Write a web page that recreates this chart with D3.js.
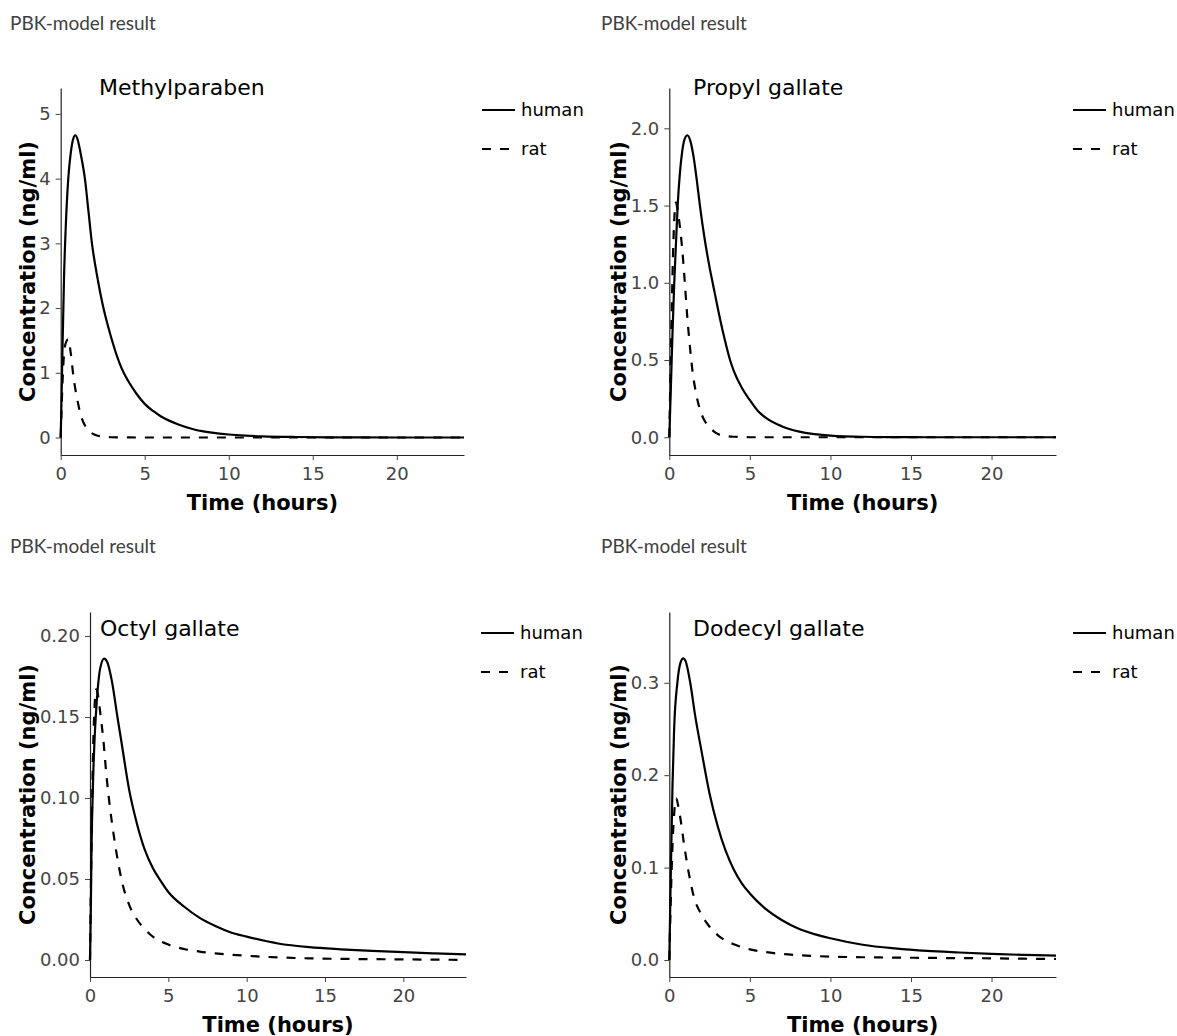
<!DOCTYPE html>
<html>
<head>
<meta charset="utf-8">
<script src="https://cdn.jsdelivr.net/npm/d3@7"></script>
<style>
body { margin: 0; background: #fff; }
svg text { font-family: "DejaVu Sans", Verdana, sans-serif; }
.header { font-family: Lato, "Open Sans", sans-serif !important; }
</style>
</head>
<body>
<svg id="chart" width="1177" height="1036"></svg>
<script>
// [time (hours), concentration (ng/ml)]
var methylHuman = [[0,0],[0.05,0.6],[0.1,1.3],[0.2,2.5],[0.3,3.25],[0.45,4.0],[0.6,4.4],[0.75,4.62],[0.87,4.67],[1,4.61],[1.2,4.37],[1.45,3.98],[1.65,3.5],[1.85,3.02],[2.2,2.45],[2.5,2.05],[3,1.55],[3.5,1.15],[3.75,1.0],[4,0.88],[4.5,0.68],[5,0.52],[5.5,0.41],[6,0.32],[7,0.2],[8,0.12],[9,0.075],[10,0.047],[11,0.03],[12,0.019],[14,0.008],[16,0.003],[18,0.0012],[20,0.0005],[24,0]];
var methylRat = [[0,0],[0.1,0.8],[0.2,1.3],[0.3,1.46],[0.45,1.52],[0.6,1.3],[0.75,0.96],[1,0.57],[1.25,0.3],[1.5,0.16],[1.75,0.085],[2,0.045],[2.5,0.013],[3,0.004],[4,0.001],[5,0],[24,0]];

var propylHuman = [[0,0],[0.1,0.33],[0.2,0.68],[0.3,0.98],[0.4,1.22],[0.52,1.5],[0.65,1.7],[0.8,1.85],[0.95,1.93],[1.12,1.955],[1.3,1.92],[1.5,1.82],[1.7,1.67],[1.9,1.5],[2.2,1.28],[2.5,1.1],[2.75,0.97],[3,0.84],[3.4,0.65],[3.77,0.5],[4,0.43],[4.5,0.32],[5,0.24],[5.5,0.17],[6,0.125],[7,0.07],[8,0.038],[9,0.02],[10,0.011],[12,0.003],[14,0.001],[16,0],[24,0]];
var propylRat = [[0,0],[0.08,0.45],[0.15,0.82],[0.25,1.25],[0.33,1.45],[0.41,1.52],[0.53,1.46],[0.65,1.37],[0.8,1.22],[0.95,1.02],[1.1,0.8],[1.25,0.62],[1.45,0.42],[1.65,0.29],[1.9,0.18],[2.2,0.105],[2.45,0.07],[2.8,0.035],[3.25,0.012],[4,0.003],[5,0],[24,0]];

var octylHuman = [[0,0],[0.05,0.03],[0.1,0.07],[0.2,0.112],[0.3,0.138],[0.4,0.155],[0.5,0.168],[0.65,0.18],[0.9,0.186],[1.1,0.184],[1.4,0.172],[1.75,0.15],[2,0.135],[2.5,0.105],[3,0.084],[3.5,0.068],[4,0.057],[4.5,0.049],[5,0.042],[6,0.033],[7,0.026],[8,0.021],[9,0.017],[10,0.0144],[12,0.0102],[14,0.0079],[16,0.0066],[18,0.0056],[20,0.0048],[22,0.0041],[24,0.0035]];
var octylRat = [[0,0],[0.1,0.075],[0.2,0.13],[0.3,0.158],[0.4,0.167],[0.5,0.164],[0.65,0.153],[0.85,0.136],[1.05,0.114],[1.25,0.096],[1.5,0.078],[1.8,0.06],[2.1,0.046],[2.5,0.034],[3,0.025],[3.5,0.019],[4,0.0145],[5,0.0095],[6,0.0068],[7,0.0052],[8,0.0041],[10,0.0026],[12,0.0016],[14,0.001],[16,0.0007],[18,0.0005],[20,0.0004],[22,0.0002],[24,0.0001]];

var dodecylHuman = [[0,0],[0.05,0.05],[0.1,0.1],[0.2,0.19],[0.3,0.25],[0.5,0.3],[0.7,0.322],[0.87,0.3265],[1,0.324],[1.3,0.3],[1.6,0.265],[2,0.226],[2.5,0.18],[3,0.145],[3.5,0.118],[4,0.098],[4.5,0.083],[5,0.072],[6,0.055],[7,0.043],[8,0.034],[9,0.028],[10,0.0235],[12,0.0165],[14,0.0125],[16,0.0098],[18,0.0081],[20,0.0066],[22,0.0055],[24,0.0047]];
var dodecylRat = [[0,0],[0.1,0.07],[0.2,0.125],[0.3,0.158],[0.43,0.175],[0.55,0.167],[0.7,0.152],[0.9,0.127],[1.2,0.095],[1.5,0.07],[2,0.049],[2.5,0.036],[3,0.027],[3.5,0.021],[4,0.017],[4.5,0.014],[5,0.0115],[6,0.0085],[7,0.0065],[8,0.0052],[10,0.0037],[12,0.003],[14,0.0026],[16,0.0023],[18,0.002],[20,0.0018],[22,0.0014],[24,0.0011]];

var compounds = ['Methylparaben', 'Propyl gallate', 'Octyl gallate', 'Dodecyl gallate'];
var species = ['human', 'rat'];
var xTicks = [0, 5, 10, 15, 20];
var methylTicks = [0, 1, 2, 3, 4, 5];
var propylTicks = [0, 0.5, 1, 1.5, 2];
var octylTicks = [0, 0.05, 0.1, 0.15, 0.2];
var dodecylTicks = [0, 0.1, 0.2, 0.3];

var svg = d3.select('#chart');

// layout of each subplot (pixels), plus y-range of the axis
var panels = [
    { name: compounds[0], human: methylHuman, rat: methylRat, ticks: methylTicks, fmt: 'd',
      ox: 0, oy: 0, left: 60.7, right: 464, top: 88, bottom: 455, yMin: -0.27, yMax: 5.40, titleX: 99, legX: 482 },
    { name: compounds[1], human: propylHuman, rat: propylRat, ticks: propylTicks, fmt: '.1f',
      ox: 591, oy: 0, left: 669.3, right: 1056, top: 88, bottom: 455, yMin: -0.115, yMax: 2.261, titleX: 693, legX: 1073 },
    { name: compounds[2], human: octylHuman, rat: octylRat, ticks: octylTicks, fmt: '.2f',
      ox: 0, oy: 523, left: 90, right: 466, top: 612, bottom: 977, yMin: -0.0105, yMax: 0.2148, titleX: 100, legX: 481 },
    { name: compounds[3], human: dodecylHuman, rat: dodecylRat, ticks: dodecylTicks, fmt: '.1f',
      ox: 591, oy: 523, left: 669.3, right: 1056, top: 612, bottom: 977, yMin: -0.0184, yMax: 0.3766, titleX: 693, legX: 1073 }
];

var dash = '9,9';

panels.forEach(function (p) {
    var g = svg.append('g');

    var x = d3.scaleLinear().domain([0, 24]).range([p.left, p.right]);
    var y = d3.scaleLinear().domain([p.yMin, p.yMax]).range([p.bottom, p.top]);

    g.append('text').attr('class', 'header')
        .attr('x', p.ox + 10).attr('y', p.oy + 30)
        .attr('font-size', '19px').attr('fill', '#404040')
        .text('PBK-model result');

    var xAxis = g.append('g').attr('transform', 'translate(0,' + p.bottom + ')')
        .call(d3.axisBottom(x).tickValues(xTicks).tickSize(5).tickSizeOuter(0).tickPadding(7));
    var yAxis = g.append('g').attr('transform', 'translate(' + p.left + ',0)')
        .call(d3.axisLeft(y).tickValues(p.ticks).tickFormat(d3.format(p.fmt)).tickSize(5).tickSizeOuter(0).tickPadding(5));

    [xAxis, yAxis].forEach(function (a) {
        a.select('.domain').attr('stroke', '#222').attr('stroke-width', 1.2);
        a.selectAll('.tick line').attr('stroke', '#444');
        a.selectAll('.tick text').attr('font-size', '18px').attr('fill', '#444')
            .attr('font-family', '"DejaVu Sans", Verdana, sans-serif');
    });

    g.append('text')
        .attr('x', (p.left + p.right) / 2).attr('y', p.bottom + 55)
        .attr('text-anchor', 'middle').attr('font-size', '21px').attr('font-weight', 'bold')
        .text('Time (hours)');

    g.append('text')
        .attr('transform', 'translate(' + (p.ox + 35) + ',' + ((p.top + p.bottom) / 2) + ') rotate(-90)')
        .attr('text-anchor', 'middle').attr('font-size', '21px').attr('font-weight', 'bold')
        .text('Concentration (ng/ml)');

    g.append('text')
        .attr('x', p.titleX).attr('y', p.top + 7 + (p.oy ? 17 : 0))
        .attr('font-size', '22px').attr('fill', '#000')
        .text(p.name);

    var line = d3.line()
        .x(function (d) { return x(d[0]); })
        .y(function (d) { return y(d[1]); })
        .curve(d3.curveMonotoneX);

    g.append('path').datum(p.rat)
        .attr('d', line).attr('fill', 'none').attr('stroke', '#000')
        .attr('stroke-width', 2.2).attr('stroke-dasharray', dash);
    g.append('path').datum(p.human)
        .attr('d', line).attr('fill', 'none').attr('stroke', '#000')
        .attr('stroke-width', 2.2);

    // legend
    var ly = p.top + (p.oy ? 21 : 22);
    species.forEach(function (s, i) {
        var yy = ly + i * 39;
        g.append('line')
            .attr('x1', p.legX).attr('x2', p.legX + 33)
            .attr('y1', yy).attr('y2', yy)
            .attr('stroke', '#000').attr('stroke-width', 2.2)
            .attr('stroke-dasharray', s == 'rat' ? dash : null);
        g.append('text')
            .attr('x', p.legX + 39).attr('y', yy + 6)
            .attr('font-size', '18px').attr('fill', '#000')
            .text(s);
    });
});
</script>
</body>
</html>
